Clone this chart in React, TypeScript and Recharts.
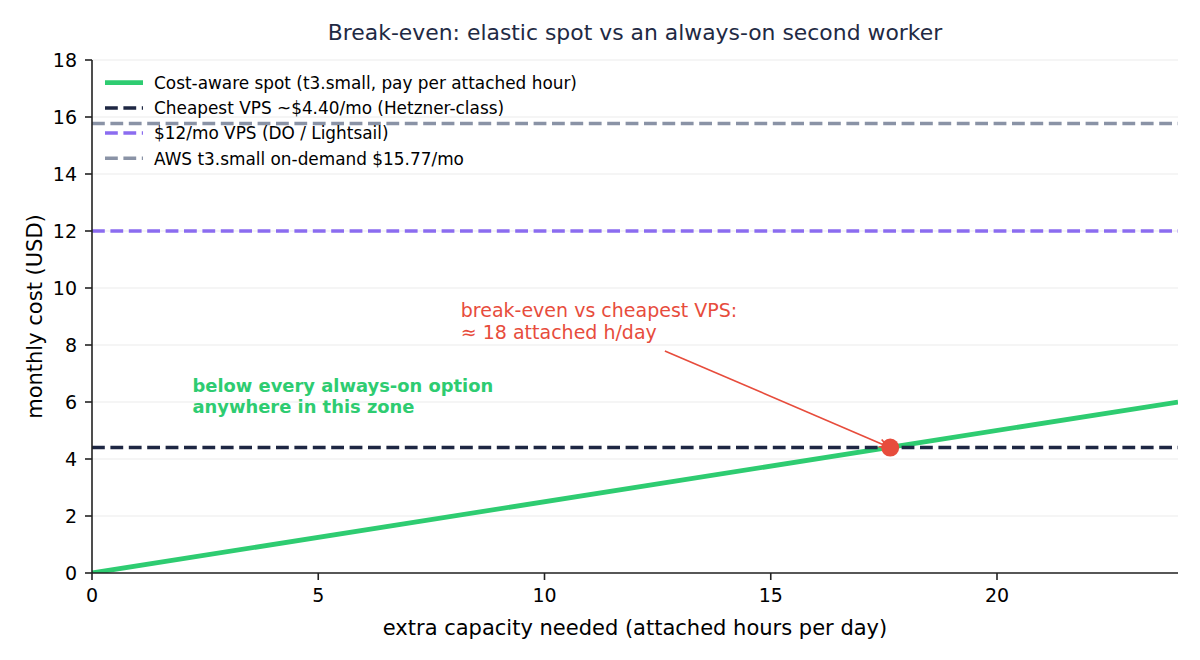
import React from 'react';
import {
  ComposedChart,
  Line,
  XAxis,
  YAxis,
  CartesianGrid,
  ReferenceLine,
  ReferenceDot,
  Legend,
  Label,
} from 'recharts';

// ---- data ----
const hoursPerDay = [0, 24];
const spotMonthlyCost = [0, 6.0];

const vpsNames = [
  'Cheapest VPS ~$4.40/mo (Hetzner-class)',
  '$12/mo VPS (DO / Lightsail)',
  'AWS t3.small on-demand $15.77/mo',
];
const vpsCosts = [4.4, 12, 15.77];
const vpsColors = ['#1e2743', '#8b6cf0', '#8a93a6'];

const spotName = 'Cost-aware spot (t3.small, pay per attached hour)';
const spotColor = '#2ecc71';

const breakEvenHours = 17.64;
const breakEvenCost = 4.4;

const arrowFrom = { x: 12.66, y: 7.79 };
const annotationAt = { x: 8.15, y: 8.99 };
const annotationLines = ['break-even vs cheapest VPS:', '≈ 18 attached h/day'];
const zoneAt = { x: 2.22, y: 6.35 };
const zoneLines = ['below every always-on option', 'anywhere in this zone'];

const xTicks = [0, 5, 10, 15, 20];
const yTicks = [0, 2, 4, 6, 8, 10, 12, 14, 16, 18];

const title = 'Break-even: elastic spot vs an always-on second worker';
const xLabel = 'extra capacity needed (attached hours per day)';
const yLabel = 'monthly cost (USD)';

const chartData = hoursPerDay.map((h, i) => ({ x: h, spot: spotMonthlyCost[i] }));

const FONT = 'DejaVu Sans, Verdana, sans-serif';
const RED = '#e74c3c';

const legendItems = [
  { name: spotName, color: spotColor, dashed: false },
  ...vpsNames.map((n, i) => ({ name: n, color: vpsColors[i], dashed: true })),
];

const renderLegend = () => (
  <svg width={500} height={110} style={{ display: 'block', overflow: 'visible' }}>
    {legendItems.map((it, i) => {
      const cy = 12.7 + i * 25.2;
      return (
        <g key={it.name}>
          <line
            x1={5}
            x2={43}
            y1={cy}
            y2={cy}
            stroke={it.color}
            strokeWidth={it.dashed ? 3.5 : 4.8}
            strokeDasharray={it.dashed ? '12.8 5.6' : undefined}
          />
          <text x={54} y={cy + 6.3} fontSize={16.9} fill="#000" fontFamily={FONT}>
            {it.name}
          </text>
        </g>
      );
    })}
  </svg>
);

const renderYLabel = (props: any) => {
  const vb = props.viewBox || { x: 0, y: 60, width: 92, height: 513 };
  const x = vb.x + 42;
  const y = vb.y + vb.height / 2;
  return (
    <text
      x={x}
      y={y}
      transform={`rotate(-90, ${x}, ${y})`}
      textAnchor="middle"
      fontSize={21}
      fill="#000"
      fontFamily={FONT}
    >
      {yLabel}
    </text>
  );
};

const renderXLabel = (props: any) => {
  const vb = props.viewBox || { x: 92, y: 573, width: 1086, height: 87 };
  const x = vb.x + vb.width / 2;
  const y = vb.y + 62;
  return (
    <text x={x} y={y} textAnchor="middle" fontSize={21} fill="#000" fontFamily={FONT}>
      {xLabel}
    </text>
  );
};

const arrowShape = (props: any) => {
  const { x1, y1, x2, y2 } = props;
  const dx = x2 - x1;
  const dy = y2 - y1;
  const len = Math.sqrt(dx * dx + dy * dy) || 1;
  const ux = dx / len;
  const uy = dy / len;
  const tx = x2 - ux * 3;
  const ty = y2 - uy * 3;
  const hl = 8;
  const hw = 4;
  const bx = tx - ux * hl;
  const by = ty - uy * hl;
  const px = -uy;
  const py = ux;
  return (
    <g>
      <line x1={x1} y1={y1} x2={tx} y2={ty} stroke={RED} strokeWidth={1.6} />
      <polyline
        points={`${bx + px * hw},${by + py * hw} ${tx},${ty} ${bx - px * hw},${by - py * hw}`}
        fill="none"
        stroke={RED}
        strokeWidth={1.6}
      />
    </g>
  );
};

const multiLineText = (lines: string[], color: string, size: number, weight: string, spacing: number) =>
  (props: any) => (
    <text x={props.cx} y={props.cy} fill={color} fontSize={size} fontWeight={weight} fontFamily={FONT}>
      {lines.map((l, i) => (
        <tspan key={i} x={props.cx} dy={i === 0 ? 0 : spacing}>
          {l}
        </tspan>
      ))}
    </text>
  );

export default function App() {
  return (
    <div
      style={{
        position: 'absolute',
        left: 0,
        top: 0,
        width: 1200,
        height: 660,
        background: '#fff',
        fontFamily: FONT,
      }}
    >
      <div
        style={{
          position: 'absolute',
          left: 92,
          width: 1086,
          top: 22,
          textAlign: 'center',
          fontSize: 21.9,
          lineHeight: '21px',
          color: '#1f2a44',
          whiteSpace: 'nowrap',
        }}
      >
        {title}
      </div>
      <ComposedChart
        width={1200}
        height={660}
        data={chartData}
        margin={{ top: 60, right: 22, left: 0, bottom: 0 }}
        style={{ fontFamily: FONT }}
      >
        <CartesianGrid vertical={false} stroke="#ebebeb" strokeWidth={1.2} />
        <XAxis
          dataKey="x"
          type="number"
          domain={[0, 24]}
          ticks={xTicks}
          allowDataOverflow
          height={87}
          tickSize={7}
          tickMargin={9}
          tick={{ fill: '#000', fontSize: 19, fontFamily: FONT }}
          axisLine={{ stroke: '#222', strokeWidth: 1.6 }}
          tickLine={{ stroke: '#222', strokeWidth: 1.6 }}
        >
          <Label content={renderXLabel} />
        </XAxis>
        <YAxis
          type="number"
          domain={[0, 18]}
          ticks={yTicks}
          allowDataOverflow
          width={92}
          tickSize={7}
          tickMargin={8}
          tick={{ fill: '#000', fontSize: 19, fontFamily: FONT }}
          axisLine={{ stroke: '#222', strokeWidth: 1.6 }}
          tickLine={{ stroke: '#222', strokeWidth: 1.6 }}
        >
          <Label content={renderYLabel} />
        </YAxis>
        <Line
          dataKey="spot"
          name={spotName}
          type="linear"
          stroke={spotColor}
          strokeWidth={4.8}
          dot={false}
          activeDot={false}
          isAnimationActive={false}
        />
        {vpsCosts.map((c, i) => (
          <ReferenceLine
            key={vpsNames[i]}
            y={c}
            stroke={vpsColors[i]}
            strokeWidth={3.5}
            strokeDasharray="12.8 5.6"
          />
        ))}
        <ReferenceLine
          segment={[arrowFrom, { x: breakEvenHours, y: breakEvenCost }]}
          ifOverflow="visible"
          shape={arrowShape}
        />
        <ReferenceDot
          x={breakEvenHours}
          y={breakEvenCost}
          r={9}
          fill={RED}
          stroke="none"
          ifOverflow="visible"
        />
        <ReferenceDot
          x={annotationAt.x}
          y={annotationAt.y}
          r={1}
          ifOverflow="visible"
          shape={multiLineText(annotationLines, RED, 19, 'normal', 22.4)}
        />
        <ReferenceDot
          x={zoneAt.x}
          y={zoneAt.y}
          r={1}
          ifOverflow="visible"
          shape={multiLineText(zoneLines, spotColor, 17.9, 'bold', 20.8)}
        />
        <Legend
          layout="vertical"
          align="center"
          verticalAlign="middle"
          content={renderLegend}
          wrapperStyle={{ position: 'absolute', left: 100, top: 70, width: 500, height: 110 }}
        />
      </ComposedChart>
    </div>
  );
}
